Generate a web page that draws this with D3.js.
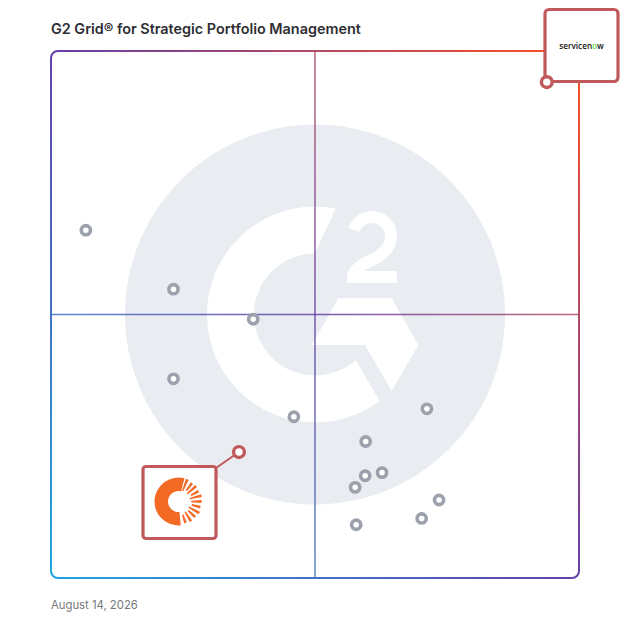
<!DOCTYPE html>
<html>
<head>
<meta charset="utf-8">
<script src="https://cdn.jsdelivr.net/npm/d3@7"></script>
<style>
  html, body { margin: 0; padding: 0; background: #fff; }
  svg { display: block; }
</style>
</head>
<body>
<div id="chart"></div>
<script>
// ---- Data ----
const title = "G2 Grid® for Strategic Portfolio Management";
const dateLabel = "August 14, 2026";
// Market presence (y) and satisfaction (x), 0-100 scale
const products = ["P1","P2","P3","P4","P5","P6","P7","P8","P9","P10","P11","P12","P13"];
const satisfaction = [6.6, 23.2, 38.3, 23.2, 46.0, 71.2, 59.6, 62.7, 59.5, 57.6, 73.5, 70.2, 57.8];
const presence     = [66.0, 54.8, 49.1, 37.8, 30.6, 32.1, 25.9, 20.0, 19.4, 17.2, 14.8, 11.3, 10.1];
const highlighted = ["Planview", "ServiceNow"];
const highlightSatisfaction = [35.6, 93.9];
const highlightPresence = [23.9, 94.1];

// ---- Setup ----
const W = 628, H = 628;
const svg = d3.select("#chart").append("svg").attr("width", W).attr("height", H);

const x = d3.scaleLinear().domain([0, 100]).range([51, 579]);
const y = d3.scaleLinear().domain([0, 100]).range([578, 51]);

const defs = svg.append("defs");
const grad = defs.append("linearGradient")
  .attr("id", "gridGrad")
  .attr("gradientUnits", "userSpaceOnUse")
  .attr("x1", x(0)).attr("y1", y(0))
  .attr("x2", x(100)).attr("y2", y(100));
grad.append("stop").attr("offset", 0).attr("stop-color", "#1ea6e0");
grad.append("stop").attr("offset", 0.5).attr("stop-color", "#6440a8");
grad.append("stop").attr("offset", 1).attr("stop-color", "#ff5020");

// ---- Title & date ----
svg.append("text").attr("x", 51).attr("y", 34)
  .attr("font-family", "Inter, 'Noto Sans', sans-serif")
  .attr("font-weight", 600).attr("font-size", 14.4)
  .attr("fill", "#2e2e33").text(title);
svg.append("text").attr("x", 51).attr("y", 609)
  .attr("font-family", "Inter, 'Noto Sans', sans-serif")
  .attr("font-size", 11.3).attr("fill", "#76767c").text(dateLabel);

// ---- G2 watermark ----
const cx = x(50), cy = y(50);
const logo = svg.append("g");
const bg = "#e9ecf0";
logo.append("circle").attr("cx", cx).attr("cy", cy).attr("r", 190).attr("fill", bg);
logo.append("path")
  .attr("transform", `translate(${cx},${cy})`)
  .attr("d", d3.arc()({innerRadius: 61, outerRadius: 108, startAngle: 0, endAngle: 2 * Math.PI}))
  .attr("fill", "#fff");
logo.append("polygon")
  .attr("points", [[315, 253.3], [342, 195], [450, 198], [450, 432], [386, 412], [356.7, 361.7], [cx, cy]].map(p => p.join(",")).join(" "))
  .attr("fill", bg);
logo.append("polygon")
  .attr("points", [[338.3, 298.3], [391.7, 298.3], [418.3, 345], [391.7, 391], [365, 345], [311.7, 345]].map(p => p.join(",")).join(" "))
  .attr("fill", "#fff");
logo.append("path")
  .attr("d", "M354,230 A19,19 0 0 1 391,237 Q391,250 374,259 Q353,268 353,277 L397,277")
  .attr("fill", "none").attr("stroke", "#fff").attr("stroke-width", 12);

// ---- Grid frame & midlines ----
svg.append("line").attr("x1", x(0)).attr("x2", x(100)).attr("y1", y(50)).attr("y2", y(50))
  .attr("stroke", "url(#gridGrad)").attr("stroke-width", 1.6).attr("opacity", 0.85);
svg.append("line").attr("x1", x(50)).attr("x2", x(50)).attr("y1", y(0)).attr("y2", y(100))
  .attr("stroke", "url(#gridGrad)").attr("stroke-width", 1.6).attr("opacity", 0.8);
svg.append("rect").attr("x", x(0)).attr("y", y(100))
  .attr("width", x(100) - x(0)).attr("height", y(0) - y(100))
  .attr("rx", 7).attr("fill", "none")
  .attr("stroke", "url(#gridGrad)").attr("stroke-width", 2);

// ---- Points ----
svg.append("g").selectAll("circle").data(products).join("circle")
  .attr("cx", (d, i) => x(satisfaction[i]))
  .attr("cy", (d, i) => y(presence[i]))
  .attr("r", 4.6).attr("fill", "#fff")
  .attr("stroke", "#9ca1ab").attr("stroke-width", 3.6);

// ---- Highlighted products ----
const red = "#c1585b";
// Planview callout box
const pv = {x: x(highlightSatisfaction[0]), y: y(highlightPresence[0])};
svg.append("line").attr("x1", 216).attr("y1", 468).attr("x2", pv.x).attr("y2", pv.y)
  .attr("stroke", red).attr("stroke-width", 2);
svg.append("rect").attr("x", 143).attr("y", 466.5).attr("width", 73).attr("height", 72)
  .attr("rx", 3).attr("fill", "#fff").attr("stroke", red).attr("stroke-width", 3.2);
// Planview-like logo
const lg = svg.append("g").attr("transform", "translate(178.5,501.5)");
const orange = "#f26a24";
lg.append("path").attr("d", d3.arc()({innerRadius: 10.5, outerRadius: 24, startAngle: Math.PI * 0.97, endAngle: Math.PI * 2.08}))
  .attr("fill", orange);
const frags = [[0.12, 0.95], [0.2, 0.6], [0.27, 0.85], [0.35, 0.5], [0.42, 0.9], [0.5, 0.7], [0.58, 0.55], [0.66, 0.9], [0.74, 0.6], [0.82, 0.8], [0.9, 0.5]];
frags.forEach(([a, l]) => {
  const ang = a * Math.PI;
  const r0 = 11 + (1 - l) * 6, r1 = 24 - (1 - l) * 3;
  lg.append("path").attr("d", d3.arc()({innerRadius: r0, outerRadius: r1, startAngle: ang - 0.06, endAngle: ang + 0.06}))
    .attr("fill", orange);
});
svg.append("circle").attr("cx", pv.x).attr("cy", pv.y).attr("r", 5.4)
  .attr("fill", "#fff").attr("stroke", red).attr("stroke-width", 3.4);

// ServiceNow box
const sn = {x: x(highlightSatisfaction[1]), y: y(highlightPresence[1])};
svg.append("rect").attr("x", 545).attr("y", 9.5).attr("width", 73).attr("height", 72)
  .attr("rx", 4).attr("fill", "#fff").attr("stroke", red).attr("stroke-width", 3.2);
const snText = svg.append("text").attr("x", 581.5).attr("y", 48.5)
  .attr("text-anchor", "middle")
  .attr("font-family", "'Open Sans', 'DejaVu Sans', sans-serif")
  .attr("font-weight", 600).attr("font-size", 8.2).attr("fill", "#111");
snText.append("tspan").text("servicen");
snText.append("tspan").attr("fill", "#62d84e").text("o");
snText.append("tspan").text("w");
svg.append("circle").attr("cx", sn.x).attr("cy", sn.y).attr("r", 5.4)
  .attr("fill", "#fff").attr("stroke", red).attr("stroke-width", 3.4);
</script>
</body>
</html>
